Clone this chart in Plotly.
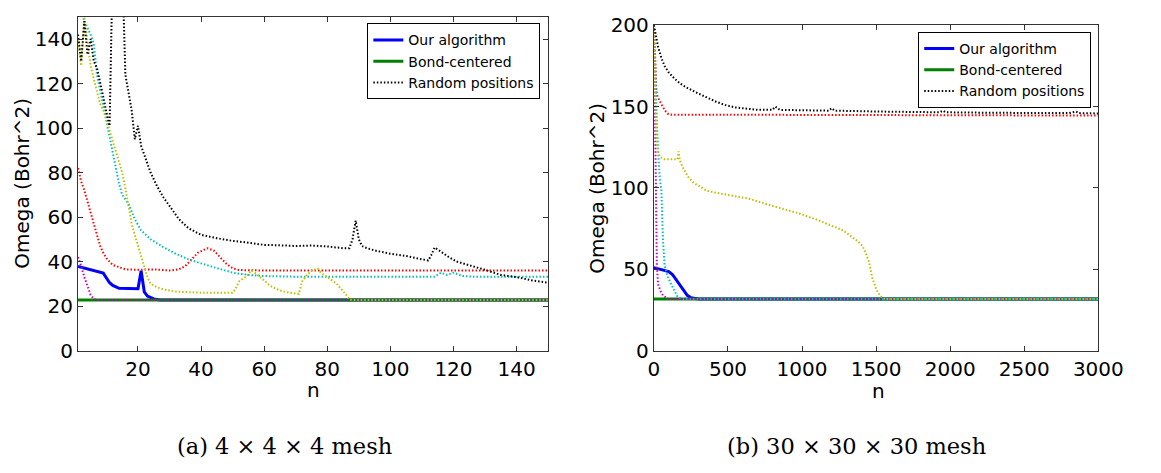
import plotly.graph_objects as go

# ---------------- (a) 4 x 4 x 4 mesh ----------------
ours_a_n = [1, 3, 5, 7, 9, 11, 12, 14, 17, 20, 21, 22, 23, 25, 27, 150]
ours_a = [37.8, 37.0, 36.3, 35.5, 34.8, 30.5, 29.3, 28.0, 27.9, 27.8, 35.9, 26.4, 24.5, 23.2, 22.7, 22.7]

bond_a_n = [1, 150]
bond_a = [22.7, 22.7]

red_a_n = [1, 2, 3, 4, 5, 6, 7, 8, 9, 10, 11, 12, 14, 16, 20, 25, 30, 33, 35, 37, 39, 42, 44, 46, 48, 50, 52, 60, 100, 150]
red_a = [82, 76, 72, 67, 62, 56, 51, 47, 44, 41.5, 40, 38.5, 37.5, 36.5, 36.3, 36.5, 36, 36.5, 38, 41, 44, 46, 45, 42, 39, 37, 36.2, 36, 36, 36]

cyan_a_n = [1, 2, 3, 4, 5, 6, 7, 8, 9, 10, 11, 12, 13, 14, 15, 17, 19, 21, 24, 28, 32, 36, 40, 45, 50, 55, 60, 70, 100, 114, 116, 118, 120, 123, 126, 150]
cyan_a = [160, 152, 148, 145, 142, 138, 124, 117, 110, 103, 96, 89, 81, 75, 70, 66, 59, 54, 50, 46.5, 43.5, 41, 39.2, 37, 35, 34, 33.5, 33.2, 33.2, 33.2, 35, 34, 35, 33.5, 33.2, 33.2]

magenta_a_n = [1, 2, 3, 4, 5, 6, 7, 150]
magenta_a = [42, 38, 33, 28.5, 25, 23.3, 22.7, 22.7]

yellow_a_n = [1, 2, 3, 4, 5, 6, 7, 8, 9, 10, 11, 12, 13, 14, 15, 16, 17, 18, 19, 20, 21, 22, 23, 24, 26, 28, 32, 40, 50, 51, 52, 54, 56, 58, 60, 62, 65, 68, 71, 72, 73, 75, 77, 78, 80, 83, 86, 87, 88, 150]
yellow_a = [140, 128, 150, 138, 128, 122, 116, 111, 108, 104, 99, 94, 89, 85, 80, 73, 65, 57, 52, 47, 42, 37, 33, 30, 28.5, 27.5, 26.5, 26, 26, 28, 31, 33, 36, 34, 31.5, 29, 27, 26, 25.5, 31, 33, 36, 36.7, 35, 33, 30, 25, 23, 22.7, 22.7]

black_a_n = [1, 2, 3, 4, 5, 6, 7, 8, 9, 10, 11, 12, 13, 14, 15, 16, 17, 18, 19, 20, 21, 22, 23, 24, 26, 28, 30, 33, 36, 40, 45, 50, 55, 60, 65, 70, 75, 80, 85, 87, 88, 89, 90, 91, 92, 95, 100, 105, 110, 112, 113, 114, 116, 118, 121, 125, 130, 135, 140, 145, 150]
black_a = [142, 130, 148, 133, 140, 130, 127, 121, 114, 107, 101, 175, 180, 175, 175, 124, 115, 108, 95, 101, 92, 88, 84, 80, 74, 69, 65, 59, 55, 52, 50.5, 49.3, 48.5, 47.5, 47.3, 47, 47.2, 46.8, 46, 46, 50, 58.4, 50, 47, 46.3, 45, 43.5, 42.5, 41, 40.5, 43, 46.3, 44.5, 42.5, 40, 38.5, 36.3, 34, 33, 31.5, 30.5]

# ---------------- (b) 30 x 30 x 30 mesh ----------------
ours_b_n = [0, 25, 50, 75, 100, 125, 150, 175, 200, 225, 250, 275, 300, 3000]
ours_b = [51, 50.3, 49.8, 49.3, 48.6, 46.8, 43.5, 40, 36.5, 34, 32.5, 31.9, 31.7, 31.7]

bond_b_n = [0, 3000]
bond_b = [31.7, 31.7]

red_b_n = [0, 5, 10, 17, 25, 39, 55, 72, 94, 120, 500, 1000, 1500, 2000, 2500, 3000]
red_b = [200, 185, 172, 159.5, 156, 153.7, 150.5, 147.9, 145.6, 145, 145, 144.8, 144.7, 144.6, 144.6, 144.5]

cyan_b_n = [0, 5, 10, 20, 30, 40, 50, 55, 61, 72, 90, 116, 140, 160, 190, 3000]
cyan_b = [200, 180, 160, 140, 120, 105, 99, 85, 68, 52.5, 46, 40.9, 36, 33, 31.7, 31.7]

magenta_b_n = [0, 5, 10, 15, 20, 28, 45, 61, 80, 94, 3000]
magenta_b = [200, 160, 120, 80, 52, 40.9, 36.5, 34, 32.5, 31.7, 31.7]

yellow_b_n = [0, 10, 20, 28, 40, 72, 120, 160, 166, 175, 193, 230, 269, 357, 422, 641, 800, 970, 1100, 1200, 1277, 1320, 1380, 1408, 1430, 1452, 1474, 1500, 1518, 1540, 1560, 3000]
yellow_b = [200, 150, 127, 122.5, 119, 117.7, 117.7, 117.7, 122.5, 117, 112.9, 107, 103.1, 98.3, 97, 93.4, 89, 84.6, 80.5, 77, 73.9, 71, 67, 64.2, 60, 54.5, 44.8, 38, 35, 32.5, 31.7, 31.7]

black_b_n = [0, 10, 28, 50, 72, 100, 138, 180, 225, 290, 357, 420, 488, 550, 619, 700, 800, 820, 850, 1000, 1180, 1200, 1220, 1500, 1930, 1950, 1970, 2300, 2800, 2850, 2870, 3000]
black_b = [200, 195, 186.8, 180, 175, 171, 167.3, 164, 161.5, 158.5, 155.6, 153, 150.8, 149.5, 148.8, 148, 148, 150, 148, 147.7, 147.5, 149, 147.5, 147, 146.5, 147.5, 146.5, 146.2, 146, 147, 146, 145.8]

y_ticks_a = [0, 20, 40, 60, 80, 100, 120, 140]
x_ticks_a = [20, 40, 60, 80, 100, 120, 140]
y_ticks_b = [0, 50, 100, 150, 200]
x_ticks_b = [0, 500, 1000, 1500, 2000, 2500, 3000]

BLUE, GREEN, RED = "#0000ff", "#008000", "#ff0000"
CYAN, MAGENTA, YELLOW, BLACK = "#00bfbf", "#bf00bf", "#bfbf00", "#000000"
DOT = "1.5px,2px"
W, H = 1161, 473

fig = go.Figure()


def solid(x, y, color, name, xa, ya, leg, show):
    fig.add_trace(go.Scatter(x=x, y=y, mode="lines", name=name, legend=leg,
                             showlegend=show, xaxis=xa, yaxis=ya,
                             line=dict(color=color, width=3)))


def dotted(x, y, color, name, xa, ya, leg, show):
    fig.add_trace(go.Scatter(x=x, y=y, mode="lines", name=name, legend=leg,
                             showlegend=show, xaxis=xa, yaxis=ya,
                             line=dict(color=color, width=2, dash=DOT)))


# panel (a)
solid(ours_a_n, ours_a, BLUE, "Our algorithm", "x", "y", "legend", True)
solid(bond_a_n, bond_a, GREEN, "Bond-centered", "x", "y", "legend", True)
dotted(red_a_n, red_a, RED, "r", "x", "y", "legend", False)
dotted(cyan_a_n, cyan_a, CYAN, "c", "x", "y", "legend", False)
dotted(magenta_a_n, magenta_a, MAGENTA, "m", "x", "y", "legend", False)
dotted(yellow_a_n, yellow_a, YELLOW, "y", "x", "y", "legend", False)
dotted(black_a_n, black_a, BLACK, "Random positions", "x", "y", "legend", True)

# panel (b)
solid(ours_b_n, ours_b, BLUE, "Our algorithm", "x2", "y2", "legend2", True)
solid(bond_b_n, bond_b, GREEN, "Bond-centered", "x2", "y2", "legend2", True)
dotted(red_b_n, red_b, RED, "r", "x2", "y2", "legend2", False)
dotted(cyan_b_n, cyan_b, CYAN, "c", "x2", "y2", "legend2", False)
dotted(magenta_b_n, magenta_b, MAGENTA, "m", "x2", "y2", "legend2", False)
dotted(yellow_b_n, yellow_b, YELLOW, "y", "x2", "y2", "legend2", False)
dotted(black_b_n, black_b, BLACK, "Random positions", "x2", "y2", "legend2", True)

TICKFONT = dict(family="DejaVu Sans", size=20, color="black")
axis_common = dict(showline=True, linecolor="#333", linewidth=1.2, mirror="ticks",
                   ticks="inside", ticklen=5, tickcolor="#333", tickwidth=1,
                   showgrid=False, zeroline=False, tickfont=TICKFONT)

# pixel-based placement of both panels
ax_l = (74, 557)
ax_r = (665.7, 1122.3)
ay_l = (5, 356.7)
ay_r = (14, 356.7)


def px(v):
    return v / W


def py(v):
    return 1 - v / H


fig.update_layout(
    width=W, height=H,
    margin=dict(l=0, r=0, t=0, b=0),
    paper_bgcolor="white", plot_bgcolor="white",
    showlegend=True,
    xaxis=dict(domain=[px(ax_l[0]), px(ax_l[1])], range=[1, 150], tickvals=x_ticks_a,
               anchor="y", **axis_common),
    yaxis=dict(domain=[py(ay_l[1]), py(ay_l[0])], range=[0, 150], tickvals=y_ticks_a,
               anchor="x", **axis_common),
    xaxis2=dict(domain=[px(ax_r[0]), px(ax_r[1])], range=[0, 3000], tickvals=x_ticks_b,
                anchor="y2", **axis_common),
    yaxis2=dict(domain=[py(ay_r[1]), py(ay_r[0])], range=[0, 200], tickvals=y_ticks_b,
                anchor="x2", **axis_common),
    legend=dict(x=px(549), y=py(12), xanchor="right", yanchor="top",
                bgcolor="white", bordercolor="black", borderwidth=1,
                font=dict(family="DejaVu Sans", size=14, color="black"),
                itemwidth=30, tracegroupgap=0),
    legend2=dict(x=px(1115), y=py(21), xanchor="right", yanchor="top",
                 bgcolor="white", bordercolor="black", borderwidth=1,
                 font=dict(family="DejaVu Sans", size=14, color="black"),
                 itemwidth=30, tracegroupgap=0),
)

TITLEFONT = dict(family="DejaVu Sans", size=20, color="black")
CAPFONT = dict(family="DejaVu Serif", size=22.5, color="black")

annotations = [
    dict(text="Omega (Bohr^2)", x=px(16.5), y=py((ay_l[0] + ay_l[1]) / 2), textangle=-90,
         font=TITLEFONT, yanchor="middle"),
    dict(text="Omega (Bohr^2)", x=px(607), y=py((ay_r[0] + ay_r[1]) / 2), textangle=-90,
         font=TITLEFONT, yanchor="middle"),
    dict(text="n", x=px(316), y=py(383), font=TITLEFONT, yanchor="top"),
    dict(text="n", x=px(896), y=py(385), font=TITLEFONT, yanchor="top"),
    dict(text="(a) 4 × 4 × 4 mesh", x=px(286.4), y=py(457.5), font=CAPFONT, yanchor="middle"),
    dict(text="(b) 30 × 30 × 30 mesh", x=px(874), y=py(457.5), font=CAPFONT, yanchor="middle"),
]
for a in annotations:
    a.update(xref="paper", yref="paper", xanchor="center", showarrow=False)
fig.update_layout(annotations=annotations)

fig.write_html("out.html")
